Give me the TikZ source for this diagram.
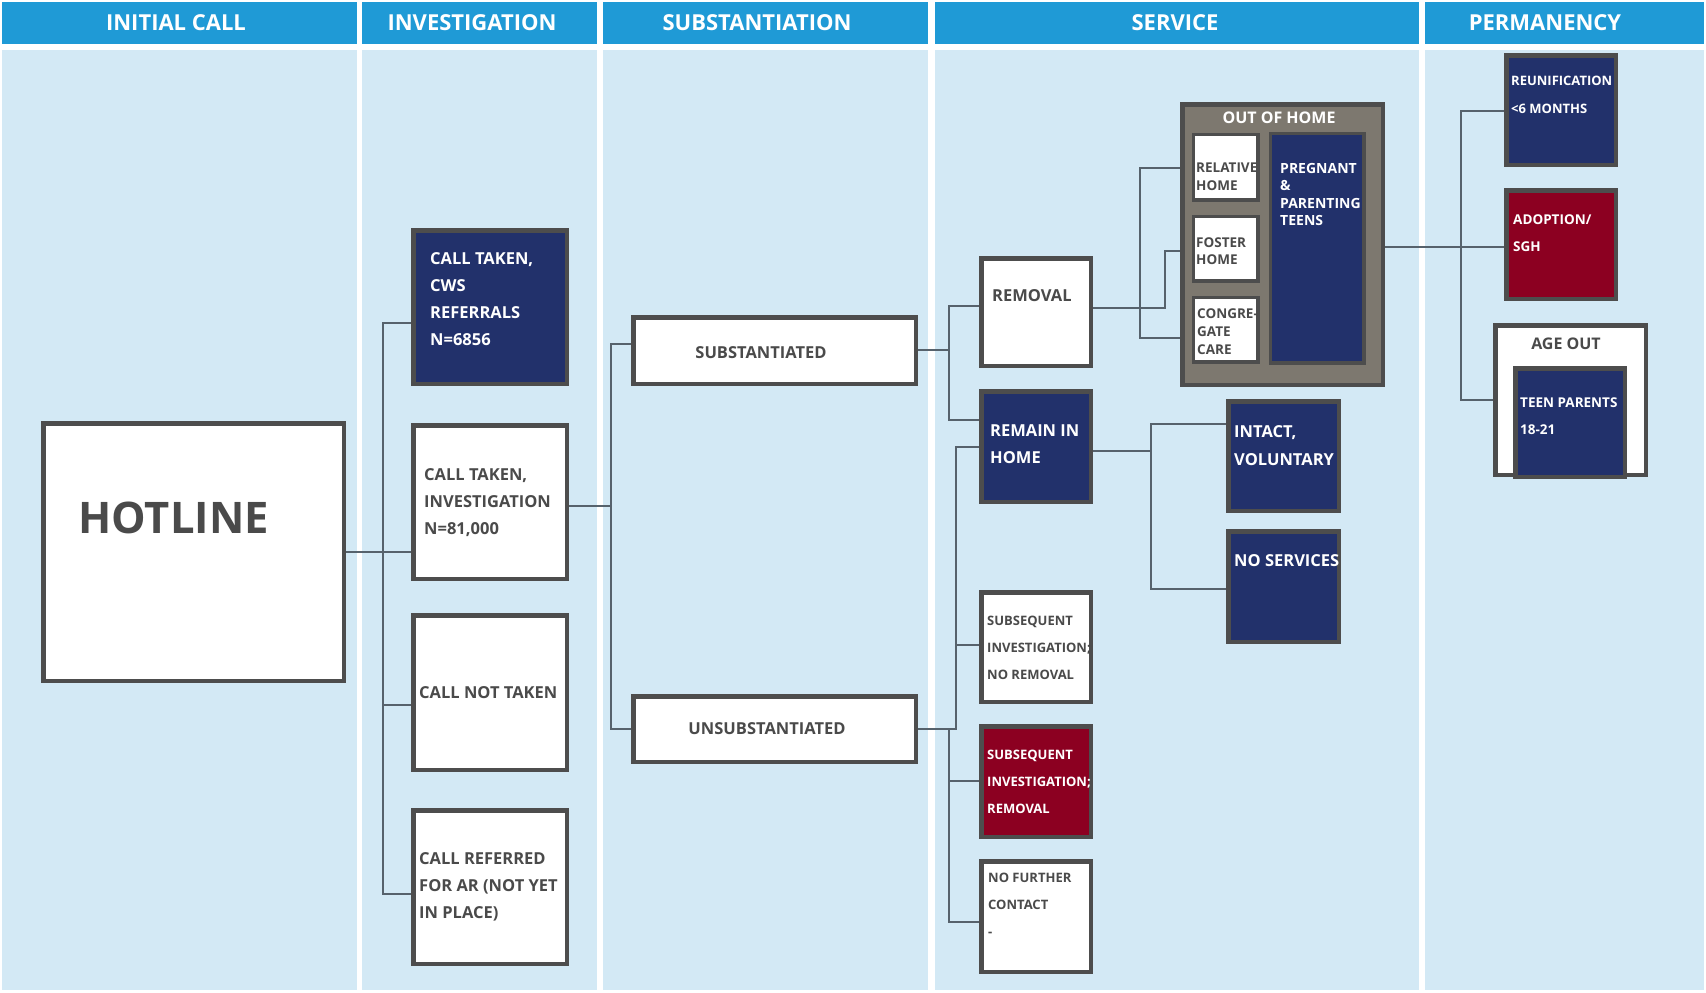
\documentclass[tikz,border=0pt]{standalone}
\usepackage{fontspec}
\setmainfont{Open Sans}
\usetikzlibrary{calc}
\definecolor{hdr}{HTML}{1F9AD6}
\definecolor{colb}{HTML}{D3E9F5}
\definecolor{navy}{HTML}{22316B}
\definecolor{crim}{HTML}{8C0021}
\definecolor{bordc}{HTML}{4D4D4D}
\definecolor{taupe}{HTML}{7D786F}
\definecolor{connc}{HTML}{56626C}
\definecolor{txtg}{HTML}{4A4A4A}
\pgfdeclarelayer{bg}
\pgfsetlayers{bg,main}
\newcommand\mkbox[6]{\node[#2, minimum width={#5-#3-4.5}, minimum height={#6-#4-4.5}] (#1) at ({(#3+#5)/2},{(#4+#6)/2}) {};}
\begin{document}
\begin{tikzpicture}[x=1pt,y=-1pt,
  box/.style={draw=bordc, line width=4.5pt, inner sep=0pt, outer sep=0pt},
  sbox/.style={draw=bordc, line width=3.5pt, inner sep=0pt, outer sep=0pt},
  wbox/.style={box, fill=white},
  nbox/.style={box, fill=navy},
  rbox/.style={box, fill=crim},
  conn/.style={draw=connc, line width=1.4pt},
  hdrtxt/.style={text=white, inner sep=0pt, font=\bfseries\fontsize{22}{22}\selectfont},
  lbl/.style 2 args={anchor=north west, inner sep=0pt, align=left, text=txtg, font=\bfseries\fontsize{#1}{#2}\selectfont},
  wlbl/.style 2 args={lbl={#1}{#2}, text=white},
  ctr/.style={inner sep=0pt, text=txtg, font=\bfseries\fontsize{#1}{#1}\selectfont},
]
\useasboundingbox (0,0) rectangle (1706,993);
\begin{pgfonlayer}{bg}
\fill[white] (0,0) rectangle (1706,993);
\fill[hdr] (2,2) rectangle (357,44);
\fill[hdr] (362,2) rectangle (597,44);
\fill[hdr] (603,2) rectangle (928,44);
\fill[hdr] (935,2) rectangle (1419,44);
\fill[hdr] (1425,2) rectangle (1704,44);
\fill[colb] (2,50) rectangle (357,990);
\fill[colb] (362,50) rectangle (597,990);
\fill[colb] (603,50) rectangle (928,990);
\fill[colb] (935,50) rectangle (1419,990);
\fill[colb] (1425,50) rectangle (1704,990);
\end{pgfonlayer}

% headers
\node[hdrtxt] (h1) at (176,23) {INITIAL CALL};
\node[hdrtxt] (h2) at (472,23) {INVESTIGATION};
\node[hdrtxt] (h3) at (757,23) {SUBSTANTIATION};
\node[hdrtxt] (h4) at (1175,23) {SERVICE};
\node[hdrtxt] (h5) at (1545,23) {PERMANENCY};

% boxes
\mkbox{hot}{wbox}{41}{421}{346}{683}
\mkbox{cws}{nbox}{411}{228}{569}{386}
\mkbox{inv}{wbox}{411}{423}{569}{581}
\mkbox{nt}{wbox}{411}{613}{569}{772}
\mkbox{ref}{wbox}{411}{808}{569}{966}
\mkbox{sub}{wbox}{631}{315}{918}{386}
\mkbox{uns}{wbox}{631}{694}{918}{764}
\mkbox{rem}{wbox}{979}{256}{1093}{368}
\mkbox{rih}{nbox}{979}{389}{1093}{504}
\mkbox{snr}{wbox}{979}{590}{1093}{704}
\mkbox{sr}{rbox}{979}{724}{1093}{839}
\mkbox{nfc}{wbox}{979}{859}{1093}{974}
\mkbox{int}{nbox}{1226}{399}{1341}{513}
\mkbox{nos}{nbox}{1226}{529}{1341}{644}
\mkbox{ooh}{box, fill=taupe}{1180}{102}{1385}{387}
\mkbox{rel}{sbox, fill=white}{1191}{132}{1260}{202}
\mkbox{fos}{sbox, fill=white}{1191}{214}{1260}{283}
\mkbox{con}{sbox, fill=white}{1191}{295}{1260}{364}
\mkbox{prg}{sbox, fill=navy}{1268}{131}{1366}{365}
\mkbox{reu}{nbox}{1504}{53}{1618}{167}
\mkbox{adp}{rbox}{1504}{188}{1618}{301}
\mkbox{age}{wbox}{1493}{323}{1648}{477}
\mkbox{teen}{nbox}{1513}{366}{1627}{479}

% texts
\node[lbl={43.5}{43.5}] (thot) at (78,502) {HOTLINE};
\node[wlbl={16.5}{27}] (tcws) at (430,252) {CALL TAKEN,\\CWS\\REFERRALS\\N=6856};
\node[lbl={16.5}{27}] (tinv) at (424,468) {CALL TAKEN,\\INVESTIGATION\\N=81,000};
\node[lbl={16.5}{27}] (tnt) at (419,686) {CALL NOT TAKEN};
\node[lbl={16.5}{27}] (tref) at (419,852) {CALL REFERRED\\FOR AR (NOT YET\\IN PLACE)};
\node[ctr=16.5] (tsub) at (761,353) {SUBSTANTIATED};
\node[ctr=16.5] (tuns) at (767,729) {UNSUBSTANTIATED};
\node[lbl={16.5}{27}] (trem) at (992,289) {REMOVAL};
\node[wlbl={16.5}{27}] (trih) at (990,424) {REMAIN IN\\HOME};
\node[wlbl={16.5}{28}] (tint) at (1234,425) {INTACT,\\VOLUNTARY};
\node[wlbl={16.5}{28}] (tnos) at (1234,554) {NO SERVICES};
\node[lbl={13}{27}] (tsnr) at (987,616) {SUBSEQUENT\\INVESTIGATION;\\NO REMOVAL};
\node[wlbl={13}{27}] (tsr) at (987,750) {SUBSEQUENT\\INVESTIGATION;\\REMOVAL};
\node[lbl={13}{27}] (tnfc) at (988,873) {NO FURTHER\\CONTACT\\-};
\node[ctr=16, text=white] (tooh) at (1279,118) {OUT OF HOME};
\node[lbl={13.5}{18}] (trel) at (1196,163) {RELATIVE\\HOME};
\node[lbl={13.5}{17}] (tfos) at (1196,238) {FOSTER\\HOME};
\node[lbl={13.5}{18}] (tcon) at (1197,309) {CONGRE-\\GATE\\CARE};
\node[wlbl={14}{17.5}] (tprg) at (1280,163) {PREGNANT\\\&\\PARENTING\\TEENS};
\node[wlbl={13}{28}] (treu) at (1511,76) {REUNIFICATION\\<6 MONTHS};
\node[wlbl={13.5}{27}] (tadp) at (1513,215) {ADOPTION/\\SGH};
\node[ctr=16] (tage) at (1566,344) {AGE OUT};
\node[wlbl={13.5}{27}] (tteen) at (1520,398) {TEEN PARENTS\\18-21};

% connectors
\begin{pgfonlayer}{bg}
\coordinate (b1t) at (383,323); \coordinate (b1b) at (383,894); \coordinate (b1m) at (383,705);
\draw[conn] (hot.east) -- (hot.east -| inv.west);
\draw[conn] (cws.west |- b1t) -- (b1t) -- (b1b) -- (ref.west |- b1b);
\draw[conn] (b1m) -- (nt.west |- b1m);
\coordinate (b2t) at (611,344); \coordinate (b2b) at (611,729); \coordinate (b2m) at (611,506);
\draw[conn] (inv.east |- b2m) -- (b2m);
\draw[conn] (sub.west |- b2t) -- (b2t) -- (b2b) -- (uns.west |- b2b);
\coordinate (b3t) at (949,306); \coordinate (b3b) at (949,420); \coordinate (b3m) at (949,350);
\draw[conn] (sub.east |- b3m) -- (b3m);
\draw[conn] (rem.west |- b3t) -- (b3t) -- (b3b) -- (rih.west |- b3b);
\coordinate (b4t) at (956,447); \coordinate (b4b) at (956,729); \coordinate (b4m) at (956,645);
\draw[conn] (rih.west |- b4t) -- (b4t) -- (b4b) -- (uns.east |- b4b);
\draw[conn] (b4m) -- (snr.west |- b4m);
\coordinate (b5t) at (949,729); \coordinate (b5b) at (949,922); \coordinate (b5m) at (949,781);
\draw[conn] (b5t) -- (b5b) -- (nfc.west |- b5b);
\draw[conn] (b5m) -- (sr.west |- b5m);
\coordinate (b6t) at (1151,424); \coordinate (b6b) at (1151,589); \coordinate (b6m) at (1151,451);
\draw[conn] (rih.east |- b6m) -- (b6m);
\draw[conn] (int.west |- b6t) -- (b6t) -- (b6b) -- (nos.west |- b6b);
\coordinate (b7a) at (1165,308); \coordinate (b7b) at (1165,251);
\draw[conn] (rem.east |- b7a) -- (b7a) -- (b7b) -- (fos.west |- b7b);
\coordinate (b8t) at (1140,168); \coordinate (b8b) at (1140,338);
\draw[conn] (rel.west |- b8t) -- (b8t) -- (b8b) -- (con.west |- b8b);
\coordinate (b9t) at (1461,111); \coordinate (b9b) at (1461,400); \coordinate (b9m) at (1461,247);
\draw[conn] (ooh.east |- b9m) -- (adp.west |- b9m);
\draw[conn] (reu.west |- b9t) -- (b9t) -- (b9b) -- (age.west |- b9b);
\end{pgfonlayer}
\end{tikzpicture}
\end{document}
